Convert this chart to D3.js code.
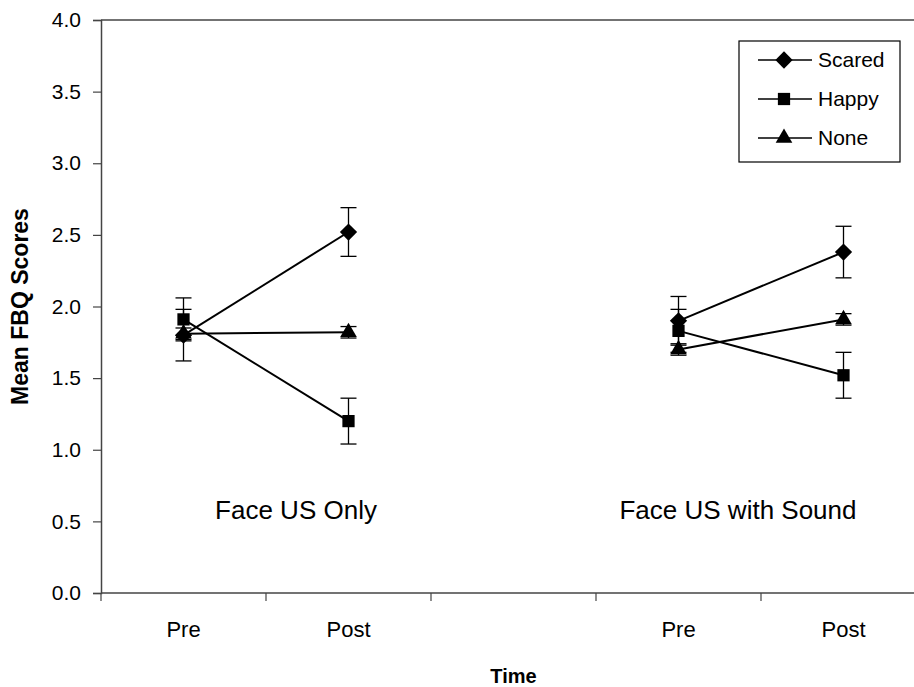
<!DOCTYPE html>
<html>
<head>
<meta charset="utf-8">
<script src="https://cdn.jsdelivr.net/npm/d3@7"></script>
<style>
  body { margin: 0; background: #fff; }
  text { font-family: "Liberation Sans", Arial, sans-serif; fill: #000; }
</style>
</head>
<body>
<div id="chart"></div>
<script>
// x categories (slot 2 is the empty gap between the two conditions)
var timeSlots = ["Pre", "Post", "", "Pre", "Post"];
var groupNames = ["Face US Only", "Face US with Sound"];
var pointSlots = [0, 1, 3, 4];   // where the 4 measurements sit

var seriesNames = ["Scared", "Happy", "None"];
var scaredMean = [1.80, 2.52, 1.90, 2.38];
var scaredErr  = [0.18, 0.17, 0.17, 0.18];
var happyMean  = [1.91, 1.20, 1.83, 1.52];
var happyErr   = [0.15, 0.16, 0.15, 0.16];
var noneMean   = [1.81, 1.82, 1.70, 1.91];
var noneErr    = [0.04, 0.04, 0.04, 0.04];

var yTicks = [0, 0.5, 1, 1.5, 2, 2.5, 3, 3.5, 4];

var margin = {top: 20, right: -12, bottom: 94, left: 101},
    W = 914, H = 687,
    width = W - margin.left - margin.right,
    height = H - margin.top - margin.bottom;

var svg = d3.select("#chart").append("svg")
    .attr("width", W)
    .attr("height", H);

var g = svg.append("g")
    .attr("transform", "translate(" + margin.left + "," + margin.top + ")");

var x = d3.scaleBand().domain(d3.range(timeSlots.length)).range([0, width]);
var y = d3.scaleLinear().domain([0, 4]).range([height, 0]);

var axisColor = "#444";

// frame top + right
g.append("line").attr("x1", 0).attr("x2", width).attr("y1", 0).attr("y2", 0)
    .attr("stroke", axisColor).attr("stroke-width", 1.5);
g.append("line").attr("x1", width).attr("x2", width).attr("y1", 0).attr("y2", height)
    .attr("stroke", axisColor).attr("stroke-width", 1.5);

// y axis
var yAxis = g.append("g")
    .call(d3.axisLeft(y).tickValues(yTicks).tickFormat(d3.format(".1f")).tickSize(8).tickPadding(12));
yAxis.select(".domain").attr("stroke", axisColor).attr("stroke-width", 1.5);
yAxis.selectAll(".tick line").attr("stroke", axisColor).attr("stroke-width", 1.2);
yAxis.selectAll("text").style("font-size", "21px").attr("fill", "#000");

// x axis: ticks at band boundaries, labels centred in bands
var xAxisG = g.append("g").attr("transform", "translate(0," + height + ")");
xAxisG.append("line").attr("x1", 0).attr("x2", width)
    .attr("stroke", axisColor).attr("stroke-width", 1.5);
xAxisG.selectAll(".xt").data(d3.range(timeSlots.length + 1)).enter()
    .append("line")
    .attr("x1", function(d) { return d * x.step(); })
    .attr("x2", function(d) { return d * x.step(); })
    .attr("y1", 0).attr("y2", 8)
    .attr("stroke", axisColor).attr("stroke-width", 1.2);
xAxisG.selectAll(".xl").data(timeSlots).enter()
    .append("text")
    .attr("x", function(d, i) { return x(i) + x.bandwidth() / 2; })
    .attr("y", 44)
    .attr("text-anchor", "middle")
    .style("font-size", "22px")
    .text(function(d) { return d; });

// axis titles
svg.append("text")
    .attr("transform", "translate(" + 28 + "," + (margin.top + height / 2) + ") rotate(-90)")
    .attr("text-anchor", "middle")
    .style("font-size", "23px")
    .style("font-weight", "bold")
    .text("Mean FBQ Scores");

svg.append("text")
    .attr("x", margin.left + width / 2)
    .attr("y", 683)
    .attr("text-anchor", "middle")
    .style("font-size", "20px")
    .style("font-weight", "bold")
    .text("Time");

// group annotations
var groupShift = [30, -23];
g.selectAll(".grp").data(groupNames).enter()
    .append("text")
    .attr("x", function(d, i) { return x(pointSlots[i * 2]) + x.bandwidth() + groupShift[i]; })
    .attr("y", 499)
    .attr("text-anchor", "middle")
    .style("font-size", "26px")
    .text(function(d) { return d; });

// symbols
var symbolFor = {
    "Scared": d3.symbol().type(d3.symbolDiamond2).size(190),
    "Happy": d3.symbol().type(d3.symbolSquare).size(150),
    "None": d3.symbol().type(d3.symbolTriangle).size(120)
};

var seriesData = [
    {name: "Scared", mean: scaredMean, err: scaredErr},
    {name: "Happy", mean: happyMean, err: happyErr},
    {name: "None", mean: noneMean, err: noneErr}
];

var px = function(i) { return x(pointSlots[i]) + x.bandwidth() / 2; };
var capW = 8;

// draw None first so Scared ends up on top
seriesData.slice().reverse().forEach(function(s) {
    var sg = g.append("g");
    // error bars
    s.mean.forEach(function(m, i) {
        var e = s.err[i];
        sg.append("line").attr("x1", px(i)).attr("x2", px(i))
            .attr("y1", y(m + e)).attr("y2", y(m - e))
            .attr("stroke", "#000").attr("stroke-width", 1.3);
        [m + e, m - e].forEach(function(v) {
            sg.append("line").attr("x1", px(i) - capW).attr("x2", px(i) + capW)
                .attr("y1", y(v)).attr("y2", y(v))
                .attr("stroke", "#000").attr("stroke-width", 1.3);
        });
    });
    // pre -> post lines per group
    [0, 2].forEach(function(k) {
        sg.append("line")
            .attr("x1", px(k)).attr("y1", y(s.mean[k]))
            .attr("x2", px(k + 1)).attr("y2", y(s.mean[k + 1]))
            .attr("stroke", "#000").attr("stroke-width", 2);
    });
    // markers
    s.mean.forEach(function(m, i) {
        sg.append("path")
            .attr("d", symbolFor[s.name]())
            .attr("transform", "translate(" + px(i) + "," + y(m) + ")")
            .attr("fill", "#000");
    });
});

// legend
var legend = svg.append("g").attr("transform", "translate(739,41)");
legend.append("rect")
    .attr("width", 161).attr("height", 121)
    .attr("fill", "#fff").attr("stroke", "#000").attr("stroke-width", 1.2);
seriesNames.forEach(function(name, i) {
    var ly = 19 + i * 39;
    legend.append("line").attr("x1", 19).attr("x2", 73).attr("y1", ly).attr("y2", ly)
        .attr("stroke", "#000").attr("stroke-width", 1.3);
    legend.append("path")
        .attr("d", symbolFor[name]())
        .attr("transform", "translate(45," + ly + ")")
        .attr("fill", "#000");
    legend.append("text")
        .attr("x", 79).attr("y", ly + 7)
        .style("font-size", "21px")
        .text(name);
});
</script>
</body>
</html>
